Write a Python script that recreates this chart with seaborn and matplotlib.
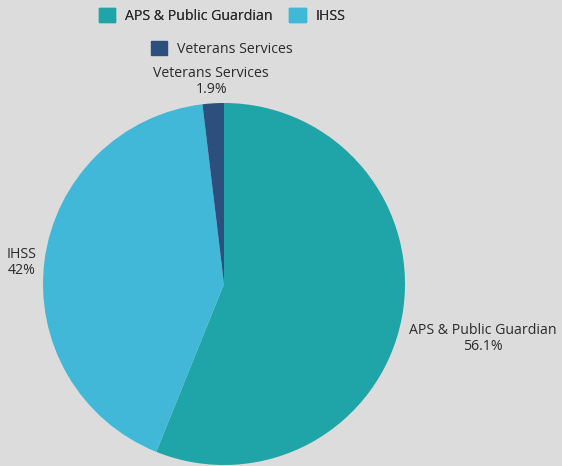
import matplotlib.pyplot as plt
import matplotlib.patches as mpatches
import seaborn as sns

# data
categories = ['APS & Public Guardian', 'IHSS', 'Veterans Services']
shares = [56.1, 42.0, 1.9]
pct_labels = ['56.1%', '42%', '1.9%']
colors = ['#1fa4a7', '#41b8d8', '#2d4f7e']

sns.set_style('white')
plt.rcParams['font.family'] = ['Open Sans', 'DejaVu Sans']
bg = '#dcdcdc'
txt = '#2b2b2b'
fs = 10.2

fig = plt.figure(figsize=(5.62, 4.66), dpi=100, facecolor=bg)
ax = fig.add_axes([0, 0, 1, 1])
ax.set_facecolor(bg)

cx, cy, r = 224, 182, 181
wedges, _ = ax.pie(shares, colors=colors, startangle=90, counterclock=False,
                   center=(cx, cy), radius=r, frame=True,
                   wedgeprops=dict(linewidth=0))
ax.set_xlim(0, 562)
ax.set_ylim(0, 466)
ax.set_aspect('equal')
ax.axis('off')

# outside labels (offsets in radius units)
offsets = [(1.43, -0.30), (-1.12, 0.12), (-0.07, 1.12)]
for name, pct, (dx, dy) in zip(categories, pct_labels, offsets):
    ax.text(cx + dx * r, cy + dy * r, f'{name}\n{pct}', ha='center',
            va='center', fontsize=fs, color=txt, linespacing=1.1)

# legend: two rows, centred
handles = [mpatches.Patch(color=c, label=n) for c, n in zip(colors, categories)]
leg1 = fig.legend(handles=handles[:2], loc='center', ncol=2,
                  bbox_to_anchor=(0.395, 0.966), frameon=False,
                  fontsize=fs, handlelength=1.15, handleheight=1.15,
                  handletextpad=0.7, columnspacing=1.2, labelcolor=txt)
fig.add_artist(leg1)
fig.legend(handles=handles[2:], loc='center', bbox_to_anchor=(0.395, 0.895),
           frameon=False, fontsize=fs, handlelength=1.15, handleheight=1.15,
           handletextpad=0.7, labelcolor=txt)

fig.savefig('out.png', dpi=100, facecolor=bg)
plt.close(fig)
